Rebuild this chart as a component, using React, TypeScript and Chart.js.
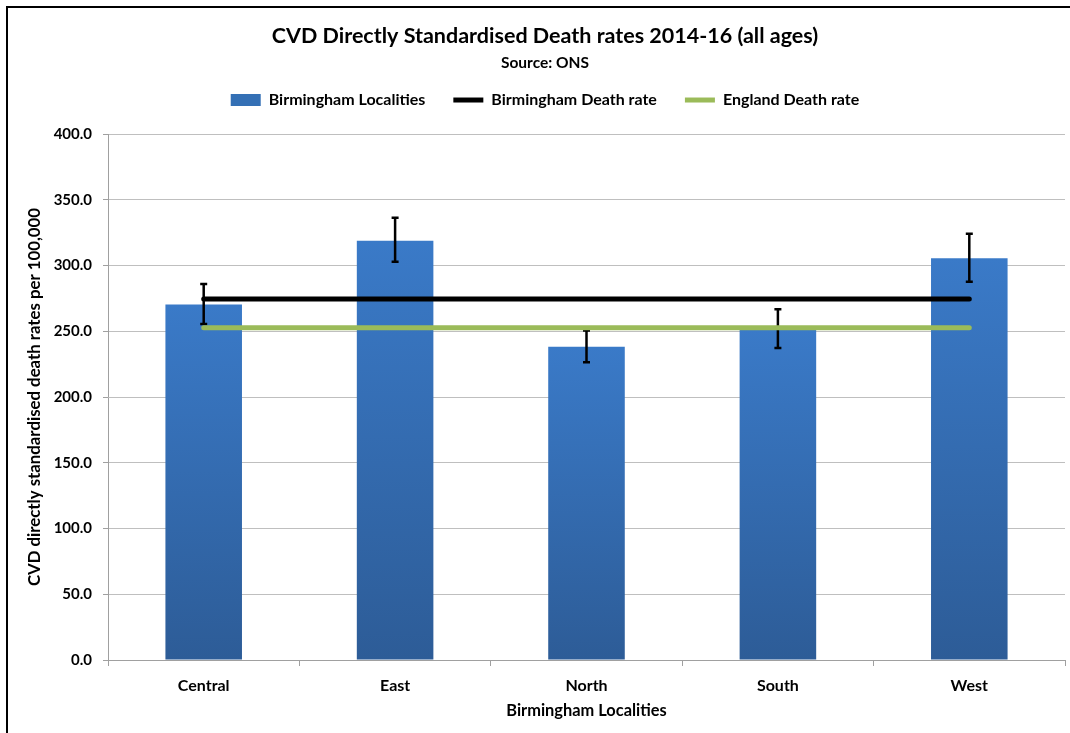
import React, { useEffect, useRef } from 'react';
import { Chart, registerables, layouts } from 'chart.js';

Chart.register(...registerables);

const categories = ['Central', 'East', 'North', 'South', 'West'];
const localityRates = [270.3, 318.9, 238.2, 251.3, 305.5];
const ciLower = [255.5, 302.9, 226.4, 237.2, 287.7];
const ciUpper = [285.9, 336.4, 250.6, 266.7, 324.2];
const birminghamRate = [274.5, 274.5, 274.5, 274.5, 274.5];
const englandRate = [252.7, 252.7, 252.7, 252.7, 252.7];
const yMin = 0;
const yMax = 400;
const yStep = 50;

const FONT = 'Lato';

const legendSpacer = {
  id: 'legendSpacer',
  beforeInit(chart: any) {
    const box: any = {
      position: 'top',
      weight: 500,
      fullSize: true,
      options: {},
      left: 0, top: 0, right: 0, bottom: 0, width: 0, height: 0,
      isHorizontal() { return true; },
      update(maxWidth: number) { this.width = maxWidth; this.height = 16; },
      draw() {},
    };
    layouts.addBox(chart, box);
  },
};

const frameAndErrors = {
  id: 'frameAndErrors',
  beforeDraw(chart: any) {
    const c = chart.ctx;
    c.save();
    c.fillStyle = '#000';
    c.fillRect(6, 6, chart.width - 6, 2);
    c.fillRect(6, 6, 2, chart.height - 6);
    c.restore();
  },
  afterDatasetDraw(chart: any, args: any) {
    if (args.index !== 0) return;
    const meta = args.meta;
    const y = chart.scales.y;
    const c = chart.ctx;
    c.save();
    c.strokeStyle = '#000';
    meta.data.forEach((el: any, i: number) => {
      const x = el.x;
      const yHi = y.getPixelForValue(ciUpper[i]);
      const yLo = y.getPixelForValue(ciLower[i]);
      c.lineWidth = 2.5;
      c.beginPath();
      c.moveTo(x, yHi);
      c.lineTo(x, yLo);
      c.stroke();
      c.beginPath();
      c.moveTo(x - 3.5, yHi);
      c.lineTo(x + 3.5, yHi);
      c.moveTo(x - 3.5, yLo);
      c.lineTo(x + 3.5, yLo);
      c.stroke();
    });
    c.restore();
  },
};

function barGradient(ctx: any) {
  const chart = ctx.chart;
  const ys = chart.scales && chart.scales.y;
  if (!chart.chartArea || !ys || ctx.type !== 'data') return '#3470B5';
  const v = localityRates[ctx.dataIndex];
  const top = ys.getPixelForValue(v);
  const bottom = ys.getPixelForValue(0);
  if (!isFinite(top) || !isFinite(bottom) || top === bottom) return '#3470B5';
  const g = chart.ctx.createLinearGradient(0, top, 0, bottom);
  g.addColorStop(0, '#3A7AC8');
  g.addColorStop(1, '#2D5C97');
  return g;
}

export default function App() {
  const ref = useRef<HTMLCanvasElement | null>(null);

  useEffect(() => {
    if (!ref.current) return;
    const chart = new Chart(ref.current, {
      type: 'bar',
      data: {
        labels: categories,
        datasets: [
          {
            type: 'bar',
            label: 'Birmingham Localities',
            data: localityRates,
            backgroundColor: barGradient,
            borderWidth: 0,
            barPercentage: 0.4,
            categoryPercentage: 1,
            order: 3,
          },
          {
            type: 'line',
            label: 'Birmingham Death rate',
            data: birminghamRate,
            borderColor: '#000000',
            backgroundColor: '#000000',
            borderWidth: 5,
            borderCapStyle: 'round',
            pointRadius: 0,
            fill: false,
            order: 1,
          },
          {
            type: 'line',
            label: 'England Death rate',
            data: englandRate,
            borderColor: '#9BBB59',
            backgroundColor: '#9BBB59',
            borderWidth: 5,
            borderCapStyle: 'round',
            pointRadius: 0,
            fill: false,
            order: 2,
          },
        ],
      },
      options: {
        responsive: false,
        animation: false,
        layout: { padding: { left: 25, right: 5, top: 0, bottom: 0 } },
        plugins: {
          tooltip: { enabled: false },
          title: {
            display: true,
            text: 'CVD Directly Standardised Death rates 2014-16 (all ages)',
            color: '#000',
            font: { family: FONT, size: 21.5, weight: 'bold', lineHeight: 1.2 },
            padding: { top: 23, bottom: 2 },
          },
          subtitle: {
            display: true,
            text: 'Source: ONS',
            color: '#000',
            font: { family: FONT, size: 15.5, weight: 'bold', lineHeight: 0.13 },
            padding: { top: 11.2, bottom: 0 },
          },
          legend: {
            display: true,
            position: 'top',
            labels: {
              usePointStyle: true,
              pointStyleWidth: 30,
              boxHeight: 12,
              padding: 28,
              color: '#000',
              font: { family: FONT, size: 16, weight: 'bold' },
              generateLabels: () => [
                { text: 'Birmingham Localities', fillStyle: '#3470B5', strokeStyle: '#3470B5', lineWidth: 0, pointStyle: 'rect', datasetIndex: 0, hidden: false },
                { text: 'Birmingham Death rate', fillStyle: '#000', strokeStyle: '#000', lineWidth: 5, pointStyle: 'line', datasetIndex: 1, hidden: false },
                { text: 'England Death rate', fillStyle: '#9BBB59', strokeStyle: '#9BBB59', lineWidth: 5, pointStyle: 'line', datasetIndex: 2, hidden: false },
              ],
            },
          },
        },
        scales: {
          x: {
            offset: true,
            afterFit(scale: any) { scale.height = 73; },
            grid: {
              offset: true,
              drawOnChartArea: false,
              drawTicks: true,
              tickLength: 6,
              tickColor: '#A0A0A0',
            },
            border: { color: '#A0A0A0', width: 1 },
            ticks: {
              color: '#000',
              padding: 10,
              font: { family: FONT, size: 16, weight: 'bold' },
            },
            title: {
              display: true,
              text: 'Birmingham Localities',
              color: '#000',
              font: { family: FONT, size: 16.4, weight: 'bold', lineHeight: 1.2 },
              padding: { top: 12, bottom: 12 },
            },
          },
          y: {
            min: yMin,
            max: yMax,
            afterFit(scale: any) { scale.width = 83; },
            grid: {
              color: '#BFBFBF',
              borderDash: [2, 1],
              tickBorderDash: [],
              tickColor: '#A0A0A0',
              tickLength: 5,
              drawTicks: true,
            },
            border: { color: '#A0A0A0', width: 1 },
            ticks: {
              stepSize: yStep,
              color: '#000',
              padding: 11,
              font: { family: FONT, size: 15, weight: 'bold' },
              callback: (v: any) => Number(v).toFixed(1),
            },
            title: {
              display: true,
              text: 'CVD directly standardised death rates per 100,000',
              color: '#000',
              font: { family: FONT, size: 16.8, weight: 'bold', lineHeight: 1.2 },
              padding: { top: 0, bottom: 0 },
            },
          },
        },
      } as any,
      plugins: [legendSpacer, frameAndErrors],
    });
    return () => chart.destroy();
  }, []);

  return (
    <div style={{ position: 'fixed', left: 0, top: 0, width: 1070, height: 733, background: '#fff' }}>
      <canvas ref={ref} width={1070} height={733} style={{ display: 'block', width: 1070, height: 733 }} />
    </div>
  );
}
